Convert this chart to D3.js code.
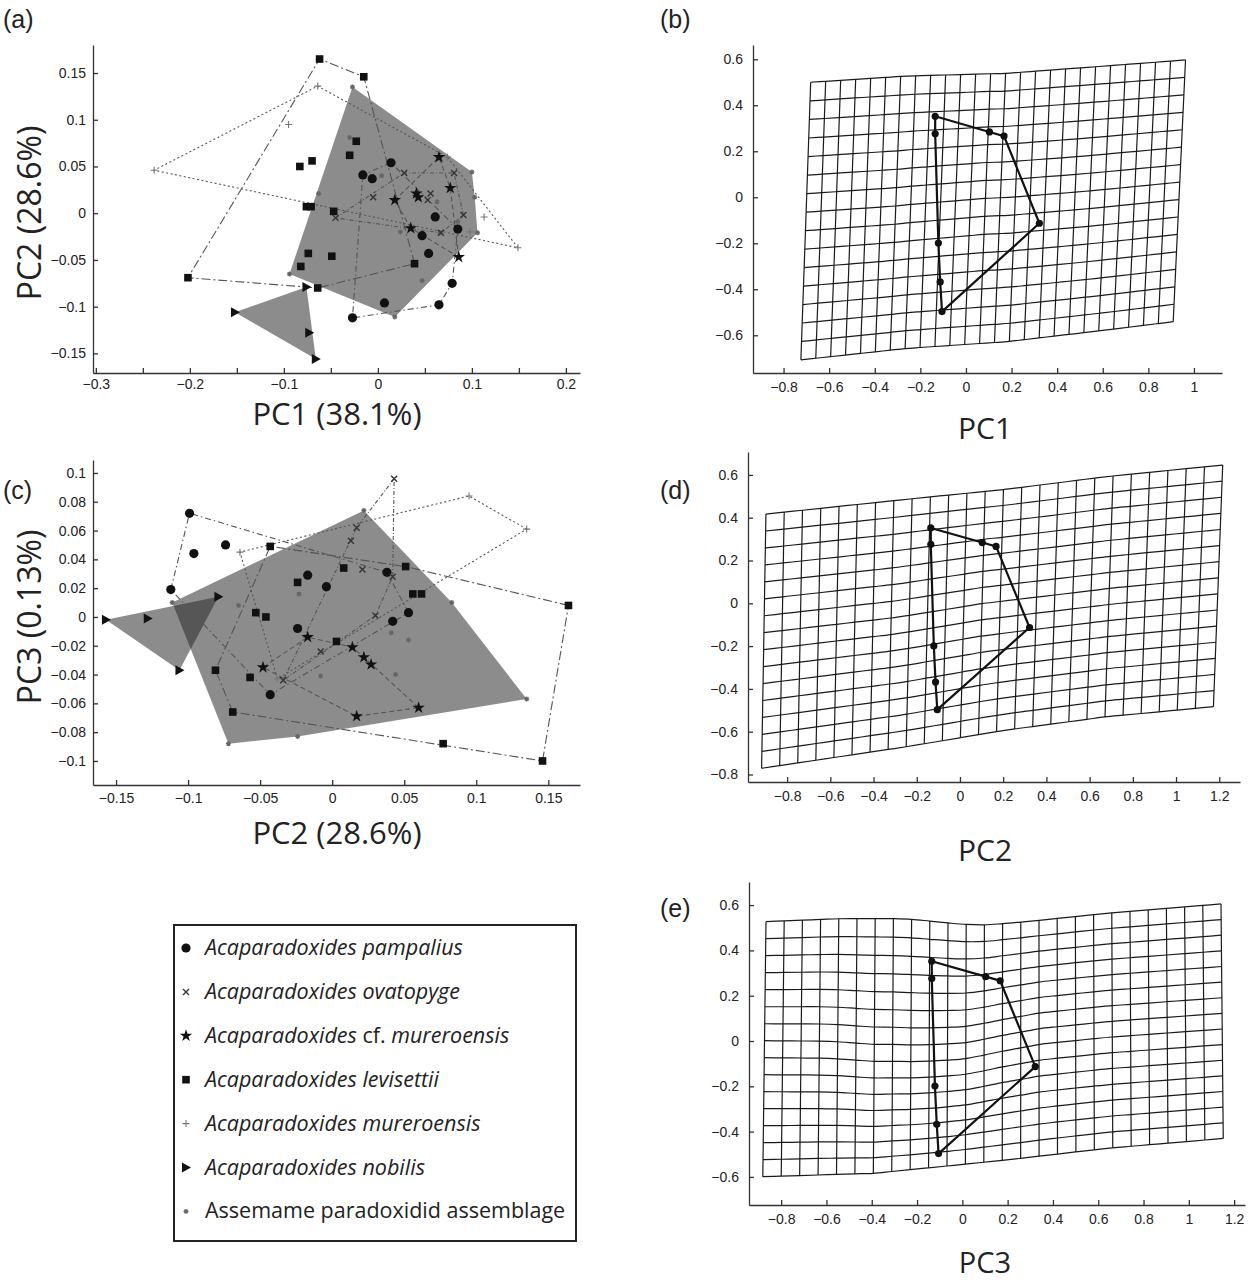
<!DOCTYPE html>
<html>
<head>
<meta charset="utf-8">
<script src="https://d3js.org/d3.v7.min.js"></script>
<style>
  body { margin: 0; background: #fff; }
  svg text { font-family: Arial, "Liberation Sans", sans-serif; fill: #222; }
  .title { font-family: "Open Sans", "Noto Sans", sans-serif; }
</style>
</head>
<body>
<svg id="fig" width="1250" height="1283"></svg>
<script>
// ---- scatter data, PC1 vs PC2 (panel a) ----
var a_pampalius = [[0.014,0.054],[-0.016,0.041],[-0.006,0.037],[0.061,-0.004],[0.085,-0.017],[0.047,-0.024],[0.054,-0.043],[0.065,-0.098],[0.079,-0.075],[0.007,-0.096],[-0.027,-0.112]];
var a_ovatopyge = [[0.028,0.043],[0.081,0.043],[-0.005,0.017],[0.056,0.021],[0.053,0.014],[0.091,-0.002],[0.067,-0.021],[-0.045,-0.005]];
var a_cfmureroensis = [[0.065,0.060],[0.077,0.027],[0.041,0.021],[0.043,0.017],[0.018,0.014],[0.035,-0.016],[0.086,-0.047]];
var a_levisettii = [[-0.062,0.165],[-0.015,0.146],[-0.023,0.077],[-0.030,0.062],[-0.083,0.050],[-0.070,0.056],[-0.076,0.007],[-0.071,0.007],[-0.047,0.002],[-0.074,-0.043],[-0.049,-0.046],[-0.082,-0.057],[-0.202,-0.069],[-0.064,-0.080],[0.039,-0.054]];
var a_mureroensis = [[-0.238,0.046],[-0.064,0.136],[-0.095,0.095],[0.074,0.060],[0.113,-0.004],[0.149,-0.037],[0.098,-0.020]];
var a_nobilis = [[-0.152,-0.106],[-0.076,-0.079],[-0.066,-0.156],[-0.073,-0.128]];
var a_assemame = [[-0.027,0.135],[0.100,0.044],[0.103,0.017],[0.106,-0.021],[0.018,-0.111],[-0.094,-0.065],[-0.030,0.081],[0.004,0.040],[0.063,0.012],[0.047,-0.072],[0.066,-0.021],[0.085,-0.009],[-0.063,0.021],[0.024,-0.020]];

// ---- scatter data, PC2 vs PC3 (panel c) ----
var c_pampalius = [[-0.099,0.072],[-0.096,0.044],[-0.074,0.050],[-0.112,0.019],[-0.017,0.029],[-0.004,0.021],[-0.024,-0.008],[-0.043,-0.054],[0.038,0.031],[0.053,0.003],[0.042,-0.003]];
var c_ovatopyge = [[0.043,0.096],[0.017,0.062],[0.013,0.053],[0.021,0.033],[0.042,0.028],[-0.008,-0.024],[0.030,0.001],[-0.034,-0.044]];
var c_cfmureroensis = [[-0.048,-0.035],[-0.017,-0.014],[0.014,-0.021],[0.022,-0.028],[0.027,-0.033],[0.060,-0.063],[0.017,-0.069]];
var c_levisettii = [[0.164,0.008],[0.146,-0.100],[0.077,-0.088],[-0.069,-0.066],[-0.081,-0.037],[-0.057,-0.042],[-0.043,0.049],[-0.053,0.003],[-0.046,0.000],[-0.024,0.024],[0.008,0.034],[0.051,0.035],[0.056,0.016],[0.062,0.016],[0.003,-0.017]];
var c_mureroensis = [[0.095,0.084],[0.135,0.061],[-0.038,-0.043],[-0.064,0.045]];
var c_nobilis = [[-0.157,-0.002],[-0.128,-0.001],[-0.079,0.014],[-0.106,-0.037]];
var c_assemame = [[-0.111,0.010],[-0.072,-0.088],[0.135,-0.057],[0.022,0.074],[-0.024,-0.083],[-0.065,0.008],[-0.008,-0.041],[0.083,0.010],[0.041,-0.011],[0.053,-0.016],[0.044,-0.040],[-0.023,0.016]];

// ---- tick values ----
var aXTicks = [-0.3,-0.25,-0.2,-0.15,-0.1,-0.05,0,0.05,0.1,0.15,0.2];
var aYTicks = [-0.15,-0.1,-0.05,0,0.05,0.1,0.15];
var cXTicks = [-0.15,-0.1,-0.05,0,0.05,0.1,0.15];
var cYTicks = [-0.1,-0.08,-0.06,-0.04,-0.02,0,0.02,0.04,0.06,0.08,0.1];
var bXTicks = [-0.8,-0.6,-0.4,-0.2,0,0.2,0.4,0.6,0.8,1];
var bYTicks = [-0.6,-0.4,-0.2,0,0.2,0.4,0.6];
var dXTicks = [-0.8,-0.6,-0.4,-0.2,0,0.2,0.4,0.6,0.8,1,1.2];
var dYTicks = [-0.8,-0.6,-0.4,-0.2,0,0.2,0.4,0.6];
var eXTicks = [-0.8,-0.6,-0.4,-0.2,0,0.2,0.4,0.6,0.8,1,1.2];
var eYTicks = [-0.6,-0.4,-0.2,0,0.2,0.4,0.6];

// ---- mean shape landmarks (same outline in b, d, e) ----
var landmarks = [[-0.135,0.352],[0.103,0.284],[0.167,0.266],[0.322,-0.113],[-0.105,-0.497],[-0.113,-0.368],[-0.121,-0.199],[-0.135,0.276],[-0.135,0.352]];

// ---- deformation grid edges ----
var bTop = [[-0.681,0.5],[-0.26,0.527],[0.178,0.539],[0.617,0.571],[0.963,0.597]];
var bBot = [[-0.724,-0.707],[-0.26,-0.657],[0.178,-0.628],[0.617,-0.577],[0.909,-0.541]];
var bBend = [[-0.8,0],[-0.3,-0.008],[0.1,0.006],[0.5,0],[1.0,0]];
var dTop = [[-0.898,0.417],[-0.247,0.486],[0.216,0.533],[0.679,0.592],[1.216,0.646]];
var dBot = [[-0.918,-0.771],[-0.247,-0.670],[0.216,-0.592],[0.679,-0.530],[1.173,-0.483]];
var dBend = [[-0.9,0],[-0.3,-0.006],[0.1,0.006],[0.6,0],[1.2,0]];
var eTop = [[-0.867,0.527],[-0.54,0.540],[-0.33,0.541],[-0.22,0.537],[-0.12,0.527],[-0.02,0.517],[0.06,0.512],[0.12,0.513],[0.2,0.520],[0.313,0.530],[0.637,0.564],[1.142,0.605]];
var eBot = [[-0.881,-0.599],[-0.393,-0.584],[-0.098,-0.555],[0.196,-0.525],[0.637,-0.474],[1.152,-0.430]];
var eBend = [[-0.88,0],[-0.6,-0.012],[-0.4,-0.03],[-0.2,-0.04],[0,-0.03],[0.15,-0.008],[0.35,0.008],[0.7,0.005],[1.15,0]];
var gridCols = 25, gridRows = 15;

var legendLabels = ['pampalius','ovatopyge','cf. mureroensis','levisettii','mureroensis','nobilis','Assemame paradoxidid assemblage'];
var legendTypes = ['circle','x','star','square','plus','tri','ast'];

var svg = d3.select('#fig');

function fmt(d) { return d < 0 ? '\u2212' + Math.abs(d) : String(d); }

function drawAxes(x, y, xTicks, yTicks, xFmt, xPad, yPad, fs) {
    var g = svg.append('g');
    var xa = d3.axisBottom(x).tickValues(xTicks).tickSizeInner(-5).tickSizeOuter(0).tickPadding(xPad).tickFormat(xFmt || fmt);
    var ya = d3.axisLeft(y).tickValues(yTicks).tickSizeInner(-5).tickSizeOuter(0).tickPadding(yPad).tickFormat(fmt);
    g.append('g').attr('transform', `translate(0,${y.range()[0]})`).call(xa);
    g.append('g').attr('transform', `translate(${x.range()[0]},0)`).call(ya);
    g.selectAll('path,line').attr('stroke', '#333').attr('stroke-width', 1.3);
    g.selectAll('text').attr('font-size', fs).attr('fill', '#222').attr('font-family', 'Arial, sans-serif');
}

function marker(g, type, cx, cy) {
    var m = g.append('g').attr('transform', `translate(${cx},${cy})`);
    if (type == 'circle') m.append('circle').attr('r', 4.6).attr('fill', '#111');
    else if (type == 'square') m.append('rect').attr('x', -3.8).attr('y', -3.8).attr('width', 7.6).attr('height', 7.6).attr('fill', '#111');
    else if (type == 'star') m.append('path').attr('d', d3.symbol(d3.symbolStar, 48)()).attr('fill', '#111');
    else if (type == 'tri') m.append('path').attr('d', 'M-4,-5L5,0L-4,5Z').attr('fill', '#111');
    else if (type == 'x') m.append('path').attr('d', 'M-3,-3L3,3M-3,3L3,-3').attr('stroke', '#333').attr('stroke-width', 1.4);
    else if (type == 'plus') m.append('path').attr('d', 'M-3.5,0H3.5M0,-3.5V3.5').attr('stroke', '#777').attr('stroke-width', 1.1);
    else if (type == 'ast') m.append('path').attr('d', 'M-2.5,0H2.5M0,-2.5V2.5M-1.8,-1.8L1.8,1.8M-1.8,1.8L1.8,-1.8').attr('stroke', '#666').attr('stroke-width', 1.2);
}

function drawScatter(x, y, sets) {
    var g = svg.append('g');
    // filled hulls first
    sets.filter(s => s.fill).forEach(s => {
        var hull = d3.polygonHull(s.pts.map(p => [x(p[0]), y(p[1])]));
        g.append('path').attr('d', 'M' + hull.join('L') + 'Z')
            .attr('fill', '#262626').attr('fill-opacity', 0.53);
    });
    sets.filter(s => s.dash).forEach(s => {
        var hull = d3.polygonHull(s.pts.map(p => [x(p[0]), y(p[1])]));
        g.append('path').attr('d', 'M' + hull.join('L') + 'Z')
            .attr('fill', 'none').attr('stroke', '#555').attr('stroke-width', 1.1)
            .attr('stroke-dasharray', s.dash);
    });
    sets.forEach(s => s.pts.forEach(p => marker(g, s.type, x(p[0]), y(p[1]))));
}

function drawGrid(x, y, top, bot, bend) {
    var g = svg.append('g');
    var topY = d3.scaleLinear().domain(top.map(p => p[0])).range(top.map(p => p[1]));
    var botY = d3.scaleLinear().domain(bot.map(p => p[0])).range(bot.map(p => p[1]));
    var bendY = d3.scaleLinear().domain(bend.map(p => p[0])).range(bend.map(p => p[1])).clamp(true);
    var x0t = top[0][0], x1t = top[top.length - 1][0];
    var x0b = bot[0][0], x1b = bot[bot.length - 1][0];
    var nodes = d3.range(gridRows + 1).map(i => d3.range(gridCols + 1).map(j => {
        var u = j / gridCols, v = i / gridRows;
        var xt = x0t + u * (x1t - x0t), xb = x0b + u * (x1b - x0b);
        var px = xt + v * (xb - xt);
        var py = topY(xt) + v * (botY(xb) - topY(xt)) + bendY(px) * Math.sin(Math.PI * v);
        return [x(px), y(py)];
    }));
    var line = d3.line().curve(d3.curveCatmullRom);
    nodes.forEach(row => g.append('path').attr('d', line(row)));
    d3.range(gridCols + 1).forEach(j => g.append('path').attr('d', line(nodes.map(r => r[j]))));
    g.selectAll('path').attr('fill', 'none').attr('stroke', '#1a1a1a').attr('stroke-width', 1.2);

    var lm = svg.append('g');
    lm.append('path').attr('d', d3.line()(landmarks.map(p => [x(p[0]), y(p[1])])))
        .attr('fill', 'none').attr('stroke', '#111').attr('stroke-width', 2.2);
    landmarks.slice(0, -1).forEach(p => lm.append('circle').attr('cx', x(p[0])).attr('cy', y(p[1])).attr('r', 3.6).attr('fill', '#111'));
}

function title(txt, x, y, fs, rot) {
    var t = svg.append('text').attr('class', 'title').attr('font-size', fs).attr('text-anchor', 'middle').text(txt);
    if (rot) t.attr('transform', `translate(${x},${y}) rotate(-90)`);
    else t.attr('x', x).attr('y', y);
}

function panelLabel(txt, x, y) {
    svg.append('text').attr('x', x).attr('y', y).attr('font-size', 25).text(txt);
}

// ---- panel (a) ----
var xa = d3.scaleLinear().domain([-0.303, 0.215]).range([93, 580]);
var ya = d3.scaleLinear().domain([-0.171, 0.18]).range([373, 45]);
drawScatter(xa, ya, [
    {pts: a_assemame, type: 'ast', fill: true},
    {pts: a_nobilis, type: 'tri', fill: true},
    {pts: a_mureroensis, type: 'plus', dash: '2,2.5'},
    {pts: a_levisettii, type: 'square', dash: '9,3,2,3'},
    {pts: a_pampalius, type: 'circle', dash: '6,3,1.5,3'},
    {pts: a_cfmureroensis, type: 'star', dash: '5,3'},
    {pts: a_ovatopyge, type: 'x', dash: '4,2,1,2'}
]);
drawAxes(xa, ya, aXTicks, aYTicks, d => (Math.round(Math.abs(d) * 100) % 10 == 0 ? fmt(d) : ''), 6, 7, 14);
title('PC1 (38.1%)', 337, 425, 31);
title('PC2 (28.6%)', 41, 213, 32, true);
panelLabel('(a)', 3, 28);

// ---- panel (c) ----
var xc = d3.scaleLinear().domain([-0.166, 0.172]).range([93, 580]);
var yc = d3.scaleLinear().domain([-0.1167, 0.109]).range([785, 460]);
drawScatter(xc, yc, [
    {pts: c_assemame, type: 'ast', fill: true},
    {pts: c_nobilis, type: 'tri', fill: true},
    {pts: c_mureroensis, type: 'plus', dash: '2,2.5'},
    {pts: c_levisettii, type: 'square', dash: '9,3,2,3'},
    {pts: c_pampalius, type: 'circle', dash: '6,3,1.5,3'},
    {pts: c_cfmureroensis, type: 'star', dash: '5,3'},
    {pts: c_ovatopyge, type: 'x', dash: '4,2,1,2'}
]);
drawAxes(xc, yc, cXTicks, cYTicks, null, 8, 7, 14);
title('PC2 (28.6%)', 337, 844, 31);
title('PC3 (0.13%)', 41, 617, 32, true);
panelLabel('(c)', 3, 499);

// ---- panels (b), (d), (e) ----
var xb = d3.scaleLinear().domain([-0.934, 1.123]).range([753, 1222]);
var yb = d3.scaleLinear().domain([-0.764, 0.662]).range([373, 45]);
drawGrid(xb, yb, bTop, bBot, bBend);
drawAxes(xb, yb, bXTicks, bYTicks, null, 9, 10, 14);
title('PC1', 985, 439, 30);
panelLabel('(b)', 660, 28);

var xd = d3.scaleLinear().domain([-0.981, 1.296]).range([748, 1240]);
var yd = d3.scaleLinear().domain([-0.835, 0.707]).range([782, 452]);
drawGrid(xd, yd, dTop, dBot, dBend);
drawAxes(xd, yd, dXTicks, dYTicks, null, 9, 10, 14);
title('PC2', 985, 861, 30);
panelLabel('(d)', 660, 499);

var xe = d3.scaleLinear().domain([-0.942, 1.248]).range([749, 1245]);
var ye = d3.scaleLinear().domain([-0.724, 0.702]).range([1205, 882]);
drawGrid(xe, ye, eTop, eBot, eBend);
drawAxes(xe, ye, eXTicks, eYTicks, null, 9, 10, 14);
title('PC3', 985, 1273, 29);
panelLabel('(e)', 660, 917);

// ---- legend ----
var lg = svg.append('g');
lg.append('rect').attr('x', 174).attr('y', 925).attr('width', 402).attr('height', 316)
    .attr('fill', 'none').attr('stroke', '#222').attr('stroke-width', 2);
legendLabels.forEach((lab, i) => {
    var cy = 948 + i * 43.9;
    marker(lg, legendTypes[i], 186, cy);
    var t = lg.append('text').attr('class', 'title').attr('x', 205).attr('y', cy + 7).attr('font-size', 21.5);
    if (i == legendLabels.length - 1) { t.text(lab); return; }
    t.append('tspan').attr('font-style', 'italic').text('Acaparadoxides ');
    if (lab.indexOf('cf. ') == 0) {
        t.append('tspan').text('cf. ');
        t.append('tspan').attr('font-style', 'italic').text(lab.slice(4));
    } else {
        t.append('tspan').attr('font-style', 'italic').text(lab);
    }
});
</script>
</body>
</html>
